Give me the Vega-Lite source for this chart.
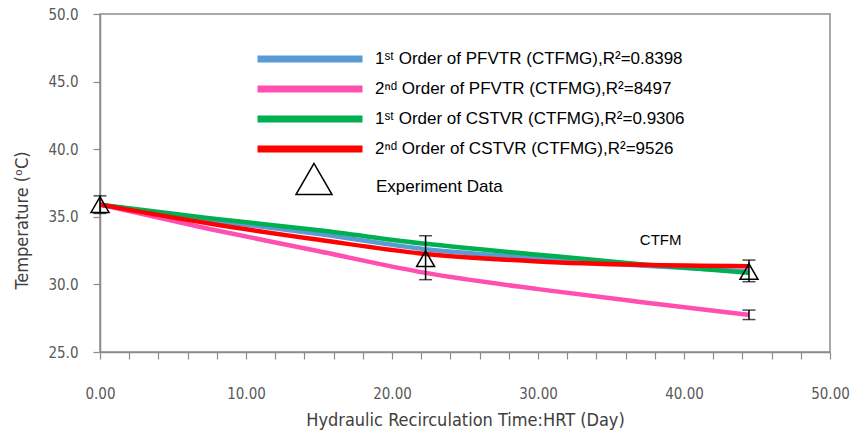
{
  "$schema": "https://vega.github.io/schema/vega-lite/v6.json",
  "autosize": "none",
  "width": 730,
  "height": 338,
  "padding": {"left": 100, "top": 14, "right": 25, "bottom": 86},
  "background": "white",
  "config": {
    "view": {"stroke": "#8c8c8c", "strokeWidth": 1.5},
    "axis": {"grid": false, "domainColor": "#8c8c8c", "tickColor": "#8c8c8c", "domainWidth": 1.5, "tickWidth": 1.2,
      "labelFont": "DejaVu Sans Condensed, DejaVu Sans, sans-serif", "labelFontSize": 15, "labelColor": "#595959",
      "titleFont": "DejaVu Sans Condensed, DejaVu Sans, sans-serif", "titleFontSize": 18, "titleColor": "#404040", "titleFontWeight": "normal"}
  },
  "datasets": {
    "lines": [
      {"series": "2ⁿᵈ Order of PFVTR (CTFMG),R²=8497", "day": 0, "temp": 35.9},
      {"series": "2ⁿᵈ Order of PFVTR (CTFMG),R²=8497", "day": 7.5, "temp": 34.1},
      {"series": "2ⁿᵈ Order of PFVTR (CTFMG),R²=8497", "day": 15, "temp": 32.45},
      {"series": "2ⁿᵈ Order of PFVTR (CTFMG),R²=8497", "day": 22.3, "temp": 30.85},
      {"series": "2ⁿᵈ Order of PFVTR (CTFMG),R²=8497", "day": 30, "temp": 29.65},
      {"series": "2ⁿᵈ Order of PFVTR (CTFMG),R²=8497", "day": 37, "temp": 28.7},
      {"series": "2ⁿᵈ Order of PFVTR (CTFMG),R²=8497", "day": 44.45, "temp": 27.75},
      {"series": "1ˢᵗ Order of PFVTR (CTFMG),R²=0.8398", "day": 0, "temp": 35.9},
      {"series": "1ˢᵗ Order of PFVTR (CTFMG),R²=0.8398", "day": 7.5, "temp": 34.75},
      {"series": "1ˢᵗ Order of PFVTR (CTFMG),R²=0.8398", "day": 15, "temp": 33.72},
      {"series": "1ˢᵗ Order of PFVTR (CTFMG),R²=0.8398", "day": 22.3, "temp": 32.6},
      {"series": "1ˢᵗ Order of PFVTR (CTFMG),R²=0.8398", "day": 30, "temp": 31.95},
      {"series": "1ˢᵗ Order of PFVTR (CTFMG),R²=0.8398", "day": 37, "temp": 31.4},
      {"series": "1ˢᵗ Order of PFVTR (CTFMG),R²=0.8398", "day": 44.45, "temp": 30.95},
      {"series": "1ˢᵗ Order of CSTVR (CTFMG),R²=0.9306", "day": 0, "temp": 35.9},
      {"series": "1ˢᵗ Order of CSTVR (CTFMG),R²=0.9306", "day": 7.5, "temp": 34.9},
      {"series": "1ˢᵗ Order of CSTVR (CTFMG),R²=0.9306", "day": 15, "temp": 34.0},
      {"series": "1ˢᵗ Order of CSTVR (CTFMG),R²=0.9306", "day": 22.3, "temp": 33.0},
      {"series": "1ˢᵗ Order of CSTVR (CTFMG),R²=0.9306", "day": 30, "temp": 32.2},
      {"series": "1ˢᵗ Order of CSTVR (CTFMG),R²=0.9306", "day": 37, "temp": 31.5},
      {"series": "1ˢᵗ Order of CSTVR (CTFMG),R²=0.9306", "day": 44.45, "temp": 30.85},
      {"series": "2ⁿᵈ Order of CSTVR (CTFMG),R²=9526", "day": 0, "temp": 35.9},
      {"series": "2ⁿᵈ Order of CSTVR (CTFMG),R²=9526", "day": 7.5, "temp": 34.5},
      {"series": "2ⁿᵈ Order of CSTVR (CTFMG),R²=9526", "day": 15, "temp": 33.3},
      {"series": "2ⁿᵈ Order of CSTVR (CTFMG),R²=9526", "day": 22.3, "temp": 32.25},
      {"series": "2ⁿᵈ Order of CSTVR (CTFMG),R²=9526", "day": 30, "temp": 31.7},
      {"series": "2ⁿᵈ Order of CSTVR (CTFMG),R²=9526", "day": 37, "temp": 31.45},
      {"series": "2ⁿᵈ Order of CSTVR (CTFMG),R²=9526", "day": 44.45, "temp": 31.35}
    ],
    "errs": [
      {"day": 0, "lo": 35.25, "hi": 36.55},
      {"day": 22.3, "lo": 30.35, "hi": 33.6},
      {"day": 44.45, "lo": 30.2, "hi": 31.8},
      {"day": 44.45, "lo": 27.4, "hi": 28.1}
    ],
    "exp": [
      {"series": "Experiment Data", "day": 0, "temp": 35.9},
      {"series": "Experiment Data", "day": 22.3, "temp": 31.9},
      {"series": "Experiment Data", "day": 44.45, "temp": 30.95}
    ],
    "notes": [
      {"day": 38.4, "temp": 33.3, "label": "CTFM"}
    ]
  },
  "layer": [
    {
      "data": {"name": "lines"},
      "mark": {"type": "line", "interpolate": "monotone", "strokeWidth": 4.5},
      "encoding": {
        "x": {"field": "day", "type": "quantitative",
          "scale": {"domain": [0, 50], "nice": false},
          "axis": {"values": [0,2,4,6,8,10,12,14,16,18,20,22,24,26,28,30,32,34,36,38,40,42,44,46,48,50],
            "tickCount": 30,
            "labelExpr": "datum.value % 10 === 0 ? format(datum.value, '.2f') : ''",
            "labelOverlap": false, "labelFlush": false,
            "tickSize": 7, "labelPadding": 27, "titlePadding": 10,
            "title": "Hydraulic Recirculation Time:HRT (Day)"}},
        "y": {"field": "temp", "type": "quantitative",
          "scale": {"domain": [25, 50], "nice": false},
          "axis": {"values": [25,30,35,40,45,50], "format": ".1f", "tickSize": 7, "labelPadding": 15,
            "title": "Temperature (ᵒC)", "titleX": -78, "titleY": 206, "titleAngle": -90, "titleAlign": "center", "titleBaseline": "middle"}},
        "color": {"field": "series", "type": "nominal",
          "scale": {"domain": ["1ˢᵗ Order of PFVTR (CTFMG),R²=0.8398", "2ⁿᵈ Order of PFVTR (CTFMG),R²=8497", "1ˢᵗ Order of CSTVR (CTFMG),R²=0.9306", "2ⁿᵈ Order of CSTVR (CTFMG),R²=9526"],
            "range": ["#5b9bd5", "#ff4fb0", "#00b050", "#ff0000"]},
          "legend": {"title": null, "orient": "none", "legendX": 196, "legendY": 31, "padding": 0,
            "symbolType": "M-5,0H5", "symbolSize": 441, "symbolStrokeWidth": 7,
            "labelFont": "Liberation Sans, Arial, sans-serif", "labelFontSize": 17, "labelColor": "#000000",
            "labelOffset": 51, "rowPadding": 2, "labelLimit": 500,
            "encode": {"symbols": {"update": {"stroke": {"signal": "datum.index === 1 ? '#ff99cc' : scale('color', datum.value)"}}}}}}
      }
    },
    {
      "data": {"name": "errs"},
      "mark": {"type": "rule", "color": "#000000", "strokeWidth": 1.5},
      "encoding": {
        "x": {"field": "day", "type": "quantitative"},
        "y": {"field": "lo", "type": "quantitative"},
        "y2": {"field": "hi"}
      }
    },
    {
      "data": {"name": "errs"},
      "mark": {"type": "tick", "orient": "horizontal", "color": "#000000", "size": 13, "thickness": 1.5},
      "encoding": {
        "x": {"field": "day", "type": "quantitative"},
        "y": {"field": "lo", "type": "quantitative"}
      }
    },
    {
      "data": {"name": "errs"},
      "mark": {"type": "tick", "orient": "horizontal", "color": "#000000", "size": 13, "thickness": 1.5},
      "encoding": {
        "x": {"field": "day", "type": "quantitative"},
        "y": {"field": "hi", "type": "quantitative"}
      }
    },
    {
      "data": {"name": "exp"},
      "mark": {"type": "point", "filled": false, "color": "#000000", "strokeWidth": 1.5, "size": 324, "opacity": 1},
      "encoding": {
        "x": {"field": "day", "type": "quantitative"},
        "y": {"field": "temp", "type": "quantitative"},
        "shape": {"field": "series", "type": "nominal", "scale": {"domain": ["Experiment Data"], "range": ["triangle-up"]},
          "legend": {"title": null, "orient": "none", "legendX": 195, "legendY": 146, "padding": 0,
            "symbolSize": 1300,
            "symbolStrokeColor": "#000000", "symbolStrokeWidth": 1.5, "symbolFillColor": "transparent",
            "labelFont": "Liberation Sans, Arial, sans-serif", "labelFontSize": 17, "labelColor": "#000000", "labelOffset": 43,
            "labelBaseline": "top",
            "encode": {"symbols": {"update": {"size": {"value": 1300}}}}}}
      }
    },
    {
      "data": {"name": "notes"},
      "mark": {"type": "text", "font": "Liberation Sans, Arial, sans-serif", "fontSize": 15, "color": "#000000"},
      "encoding": {
        "x": {"field": "day", "type": "quantitative"},
        "y": {"field": "temp", "type": "quantitative"},
        "text": {"field": "label"}
      }
    }
  ]
}
